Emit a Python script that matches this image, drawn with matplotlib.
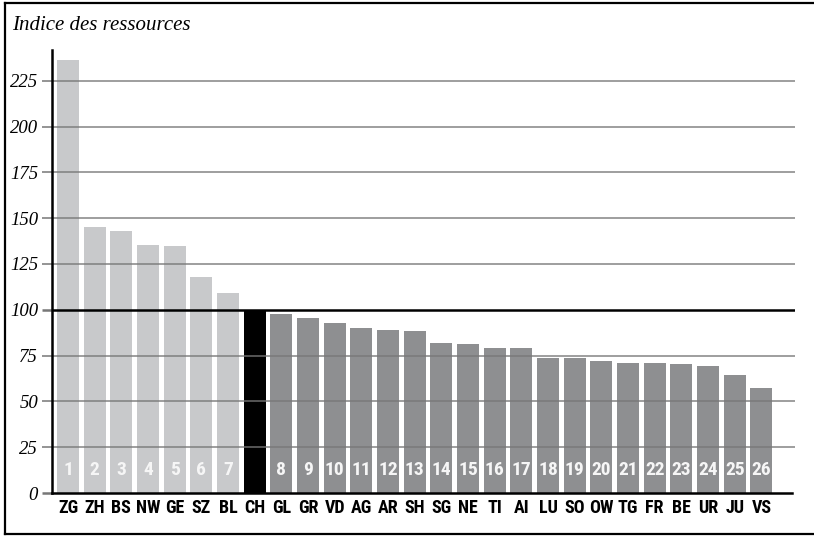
import matplotlib
matplotlib.use("Agg")
import matplotlib.pyplot as plt
from matplotlib import font_manager
from matplotlib.lines import Line2D
import numpy as np

# ressource index per canton, CH = Swiss average (100)
cantons = ["ZG", "ZH", "BS", "NW", "GE", "SZ", "BL", "CH", "GL", "GR", "VD", "AG", "AR", "SH",
           "SG", "NE", "TI", "AI", "LU", "SO", "OW", "TG", "FR", "BE", "UR", "JU", "VS"]
values = [236.4, 145.2, 143.0, 135.4, 134.8, 117.9, 109.2, 100.0, 97.7, 95.5, 92.8, 90.1, 89.0, 88.4,
          81.9, 81.3, 79.1, 79.1, 73.7, 73.7, 72.1, 71.0, 71.0, 70.4, 69.3, 64.4, 57.3]
ranks = ["1", "2", "3", "4", "5", "6", "7", "", "8", "9", "10", "11", "12", "13",
         "14", "15", "16", "17", "18", "19", "20", "21", "22", "23", "24", "25", "26"]
yticks = [0, 25, 50, 75, 100, 125, 150, 175, 200, 225]

LIGHT = "#c8c9cb"
DARK = "#8e8f91"
GRID = "#777777"

available = {f.name for f in font_manager.fontManager.ttflist}
cond_family = "DejaVu Sans"
for cand in ["Roboto Condensed", "Liberation Sans Narrow", "DejaVu Sans"]:
    if cand in available:
        cond_family = cand
        break
cond_kw = dict(family=cond_family, weight="heavy", stretch="condensed")
serif_kw = dict(family="Liberation Serif", style="italic")


def main():
    fig = plt.figure(figsize=(8.14, 5.36), dpi=100)
    W, H = 814, 536
    ax = fig.add_axes([52 / W, (H - 493) / H, 743 / W, 443 / H])

    x = np.arange(len(cantons))
    colors = []
    for c, v in zip(cantons, values):
        if c == "CH":
            colors.append("black")
        elif v > 100:
            colors.append(LIGHT)
        else:
            colors.append(DARK)

    ax.bar(x, values, width=0.82, color=colors, zorder=1)

    ax.set_xlim(-0.6, 27.26)
    ax.set_ylim(0, 241.8)

    # horizontal grid lines over the bars, 100 in black
    for t in yticks[1:]:
        if t == 100:
            ax.axhline(t, color="black", lw=1.8, zorder=3)
        else:
            ax.axhline(t, color=GRID, lw=1.1, zorder=2, alpha=0.9)

    ax.set_yticks(yticks)
    ax.set_yticklabels([str(t) for t in yticks], fontsize=13.5, **serif_kw)
    ax.tick_params(axis="y", length=7, width=1.1, color=GRID, pad=3)
    for tick, t in zip(ax.yaxis.get_major_ticks(), yticks):
        if t in (0, 100):
            tick.tick1line.set_color("black")
            tick.tick1line.set_markeredgewidth(1.8)

    ax.set_xticks(x)
    ax.set_xticklabels(cantons, fontsize=13, **cond_kw)
    ax.tick_params(axis="x", length=0, pad=4)

    for xi, r in zip(x, ranks):
        if r:
            ax.text(xi, 12.6, r, ha="center", va="center", color="#f6f6f6",
                    fontsize=14, **cond_kw)

    for side in ["top", "right"]:
        ax.spines[side].set_visible(False)
    ax.spines["left"].set_linewidth(1.8)
    ax.spines["bottom"].set_linewidth(1.8)
    ax.spines["bottom"].set_bounds(-0.6, 27.15)
    ax.spines["bottom"].set_zorder(4)

    fig.text(12 / W, 1 - 25 / H, "Indice des ressources", fontsize=15,
             ha="left", va="center", **serif_kw)

    # outer frame: left, top, bottom
    fig.add_artist(Line2D([5 / W, 5 / W], [1 - 3 / H, 1 - 534 / H], color="black", lw=1.6))
    fig.add_artist(Line2D([5 / W, 1], [1 - 3 / H, 1 - 3 / H], color="black", lw=1.6))
    fig.add_artist(Line2D([5 / W, 1], [1 - 534 / H, 1 - 534 / H], color="black", lw=1.6))

    fig.savefig("out.png", dpi=100)
    plt.close(fig)


if __name__ == "__main__":
    main()
